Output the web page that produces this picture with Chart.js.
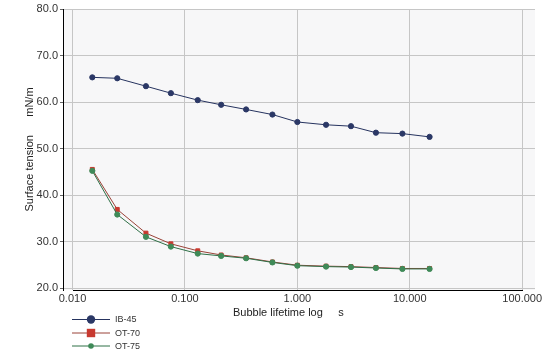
<!DOCTYPE html>
<html>
<head>
<meta charset="utf-8">
<script src="https://cdn.jsdelivr.net/npm/chart.js@4.4.1/dist/chart.umd.min.js"></script>
<style>
  html, body { margin: 0; padding: 0; background: #ffffff; }
  #wrap { width: 552px; height: 362px; }
</style>
</head>
<body>
<div id="wrap"><canvas id="c" width="552" height="362"></canvas></div>
<script>
// ---- data ----
const times = [0.015, 0.025, 0.045, 0.075, 0.13, 0.21, 0.35, 0.6, 1.0, 1.8, 3.0, 5.0, 8.6, 15];
const ib45  = [65.3, 65.1, 63.4, 61.9, 60.4, 59.4, 58.4, 57.3, 55.7, 55.1, 54.8, 53.4, 53.2, 52.5];
const ot70  = [45.5, 36.9, 31.8, 29.5, 28.0, 27.1, 26.5, 25.6, 24.9, 24.7, 24.6, 24.4, 24.2, 24.2];
const ot75  = [45.2, 35.8, 31.0, 28.9, 27.4, 26.9, 26.4, 25.5, 24.8, 24.6, 24.5, 24.3, 24.1, 24.1];
const seriesNames = ['IB-45', 'OT-70', 'OT-75'];
const xTicks = [0.01, 0.1, 1, 10, 100];
const yTicks = [20, 30, 40, 50, 60, 70, 80];
const xTitle = 'Bubble lifetime log     s       ';
const yTitle = 'Surface tension      mN/m';

const FONT = 'Liberation Sans, Arial, Helvetica, sans-serif';

function pts(ys) { return times.map((t, i) => ({ x: t, y: ys[i] })); }

const styles = [
  { line: '#26335f', fill: '#2b3866', style: 'circle', r: 2.6, lr: 4.2 },
  { line: '#9a4238', fill: '#c8392f', style: 'rect', r: 2.8, lr: 4.2 },
  { line: '#2f7047', fill: '#3f8a58', style: 'circle', r: 2.6, lr: 2.8 }
];
const values = [ib45, ot70, ot75];
const orders = [0, 2, 1];

const datasets = values.map((v, i) => ({
  label: seriesNames[i],
  data: pts(v),
  showLine: true,
  borderColor: styles[i].line,
  borderWidth: 1,
  pointStyle: styles[i].style,
  pointRadius: styles[i].r,
  pointBackgroundColor: styles[i].fill,
  pointBorderColor: styles[i].fill,
  pointBorderWidth: 1,
  order: orders[i],
  tension: 0
}));

const bgPlugin = {
  id: 'plotBg',
  beforeDraw(chart) {
    const { ctx, chartArea: a } = chart;
    ctx.save();
    ctx.fillStyle = '#f7f7f8';
    ctx.fillRect(a.left, a.top, a.right - a.left, a.bottom - a.top);
    ctx.restore();
  },
  beforeDatasetsDraw(chart) {
    const { ctx, chartArea: a, scales } = chart;
    const x0 = scales.x.getPixelForValue(xTicks[0]);
    const x1 = scales.x.getPixelForValue(xTicks[xTicks.length - 1]);
    ctx.save();
    ctx.strokeStyle = '#000000';
    ctx.lineWidth = 1;
    ctx.beginPath();
    ctx.moveTo(Math.round(x0), Math.round(a.bottom) + 0.5);
    ctx.lineTo(Math.round(x1) + 1, Math.round(a.bottom) + 0.5);
    ctx.stroke();
    ctx.restore();
  },
  afterDraw(chart) {
    const ctx = chart.ctx;
    const rows = [319, 332.5, 345.5];
    ctx.save();
    rows.forEach((y, i) => {
      const s = styles[i];
      ctx.strokeStyle = s.line;
      ctx.lineWidth = 1;
      ctx.beginPath();
      ctx.moveTo(72, y + 0.5);
      ctx.lineTo(110, y + 0.5);
      ctx.stroke();
      ctx.fillStyle = s.fill;
      if (s.style === 'rect') {
        ctx.fillRect(91 - s.lr, y + 0.5 - s.lr, s.lr * 2, s.lr * 2);
      } else {
        ctx.beginPath();
        ctx.arc(91, y + 0.5, s.lr, 0, Math.PI * 2);
        ctx.fill();
      }
      ctx.fillStyle = '#333333';
      ctx.font = '9px ' + FONT;
      ctx.textAlign = 'left';
      ctx.textBaseline = 'middle';
      ctx.fillText(seriesNames[i], 115, y + 1);
    });
    ctx.restore();
  }
};

new Chart(document.getElementById('c'), {
  type: 'scatter',
  data: { datasets },
  plugins: [bgPlugin],
  options: {
    responsive: false,
    animation: false,
    devicePixelRatio: 1,
    layout: { padding: { left: 0, right: 17, top: 9, bottom: 32 } },
    plugins: {
      legend: { display: false },
      tooltip: { enabled: false },
      title: { display: false }
    },
    scales: {
      x: {
        type: 'logarithmic',
        min: 0.00823,
        max: 130,
        afterBuildTicks(scale) { scale.ticks = xTicks.map(v => ({ value: v, major: true })); },
        afterFit(scale) { scale.height = 40; },
        ticks: {
          autoSkip: false,
          maxRotation: 0,
          padding: 2,
          color: '#333333',
          font: { family: FONT, size: 11 },
          callback: (v) => Number(v).toFixed(3)
        },
        grid: { color: '#c6c6c6', lineWidth: 1, drawTicks: false },
        border: { display: false },
        title: {
          display: true,
          text: xTitle,
          color: '#222222',
          font: { family: FONT, size: 11 },
          padding: { top: 0, bottom: 10.4 }
        }
      },
      y: {
        type: 'linear',
        min: 19.57,
        max: 80,
        afterBuildTicks(scale) { scale.ticks = yTicks.map(v => ({ value: v })); },
        afterFit(scale) { scale.width = 63; },
        ticks: {
          padding: 2,
          color: '#333333',
          font: { family: FONT, size: 11 },
          callback: (v) => Number(v).toFixed(1)
        },
        grid: { color: '#c6c6c6', lineWidth: 1, drawTicks: true, tickLength: 3, tickColor: '#666666' },
        border: { display: true, color: '#000000', width: 1 },
        title: {
          display: true,
          text: yTitle,
          color: '#222222',
          font: { family: FONT, size: 11 },
          padding: { top: 23.4, bottom: 0 }
        }
      }
    }
  }
});
</script>
</body>
</html>
